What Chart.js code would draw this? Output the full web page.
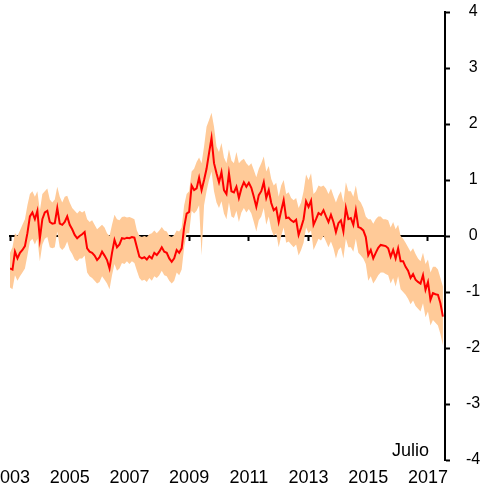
<!DOCTYPE html>
<html>
<head>
<meta charset="utf-8">
<script src="https://cdn.jsdelivr.net/npm/chart.js@4/dist/chart.umd.min.js"></script>
<style>
  body { margin: 0; background: #fff; }
  #wrap { position: relative; width: 480px; height: 489px; }
  #nota { position: absolute; left: 392px; top: 440px; font: 18px "Liberation Sans", Arial, sans-serif; color: #000; }
</style>
</head>
<body>
<div id="wrap">
  <canvas id="grafico" width="480" height="489"></canvas>
  <div id="nota">Julio</div>
</div>
<script>
// serie mensual, enero 2003 a julio 2017
var inicio = 2003;
var fin = 2017.57;
var anios = [2003, 2005, 2007, 2009, 2011, 2013, 2015, 2017];
var ticksY = [-4, -3, -2, -1, 0, 1, 2, 3, 4];

var valores = [
  -0.58, -0.6, -0.28, -0.4, -0.3, -0.25, -0.18, 0.05, 0.35, 0.42, 0.3, 0.45,
  -0.05, 0.3, 0.42, 0.45, 0.25, 0.22, 0.23, 0.5, 0.22, 0.2, 0.25, 0.35,
  0.2, 0.12, 0.02, -0.04, 0.0, 0.03, 0.07, -0.22, -0.28, -0.3, -0.35, -0.43,
  -0.38, -0.28, -0.35, -0.43, -0.58, -0.3, -0.07, -0.2, -0.15, -0.04, -0.05, -0.03,
  -0.04, -0.02, -0.03, -0.2, -0.37, -0.4, -0.38, -0.42, -0.36, -0.4, -0.3, -0.34,
  -0.28, -0.2, -0.28, -0.3, -0.4, -0.46, -0.4, -0.25, -0.3, -0.22, 0.16, 0.4,
  0.43, 0.9, 0.82, 0.85, 1.04, 0.82, 1.0, 1.2, 1.48, 1.75, 1.3, 1.12,
  0.96, 1.14, 0.82, 0.75, 1.12, 0.8, 0.78, 0.88, 0.68, 0.85, 0.96, 0.88,
  0.95, 0.86, 0.7, 0.52, 0.73, 0.8, 0.96, 0.68, 0.82, 0.59, 0.46, 0.5,
  0.25, 0.45, 0.64, 0.32, 0.33, 0.28, 0.25, 0.29, 0.02, 0.15, 0.3, 0.62,
  0.52, 0.63, 0.2, 0.3, 0.41, 0.38, 0.46, 0.35, 0.25, 0.38, 0.25, 0.07,
  0.23, 0.28, 0.08, 0.5, 0.3, 0.32, 0.2, 0.46, 0.16, 0.14, 0.1, -0.02,
  -0.34, -0.25, -0.4, -0.3, -0.21, -0.16, -0.17, -0.18, -0.22, -0.37, -0.25, -0.4,
  -0.22, -0.45, -0.45, -0.55, -0.62, -0.75, -0.68, -0.78, -0.82, -0.85, -0.7, -0.96,
  -0.82, -1.14, -1.02, -1.04, -1.05, -1.2, -1.44
];

var superior = [
  -0.3, -0.2, 0.05, 0.0, 0.1, 0.2, 0.3, 0.55, 0.75, 0.8, 0.7, 0.8,
  0.45, 0.75, 0.8, 0.85, 0.65, 0.6, 0.65, 0.88, 0.7, 0.6, 0.7, 0.72,
  0.6, 0.5, 0.45, 0.4, 0.45, 0.42, 0.45, 0.3, 0.25, 0.28, 0.2, 0.12,
  0.16, 0.2, 0.15, 0.05, 0.0, 0.2, 0.38, 0.3, 0.28, 0.34, 0.35, 0.33,
  0.34, 0.32, 0.3, 0.1, 0.0, -0.02, 0.0, -0.02, 0.03, 0.05, 0.1, 0.05,
  0.1, 0.16, 0.1, 0.08, 0.0, -0.02, 0.02, 0.1, 0.08, 0.15, 0.55, 0.75,
  0.8, 1.15, 1.2, 1.32, 1.4, 1.3, 1.6, 1.95, 2.07, 2.2, 1.95, 1.6,
  1.5, 1.66, 1.4, 1.3, 1.55, 1.35, 1.3, 1.5, 1.3, 1.35, 1.38, 1.3,
  1.25, 1.3, 1.18, 1.05, 1.2, 1.3, 1.42, 1.15, 1.25, 1.02, 0.9, 0.95,
  0.7, 0.9, 1.0, 0.75, 0.78, 0.68, 0.64, 0.68, 0.5, 0.6, 0.8, 1.1,
  1.0, 1.12, 0.75, 0.8, 0.9, 0.88, 0.9, 0.85, 0.75, 0.85, 0.72, 0.6,
  0.72, 0.8, 0.6, 0.96, 0.8, 0.8, 0.7, 0.9, 0.65, 0.6, 0.5, 0.35,
  0.3, 0.3, 0.22, 0.3, 0.35, 0.35, 0.3, 0.3, 0.28, 0.15, 0.25, 0.12,
  0.2, 0.0, -0.05, -0.12, -0.2, -0.28, -0.22, -0.32, -0.4, -0.45, -0.3, -0.5,
  -0.42, -0.65, -0.55, -0.55, -0.6, -0.75, -0.9
];

var inferior = [
  -0.92, -0.95, -0.7, -0.8, -0.72, -0.65, -0.58, -0.35, -0.1, -0.05, -0.15, -0.05,
  -0.45, -0.15, -0.05, -0.02, -0.2, -0.22, -0.2, 0.08, -0.2, -0.25, -0.2, -0.1,
  -0.25, -0.32, -0.42, -0.45, -0.4, -0.4, -0.35, -0.65, -0.72, -0.75, -0.8, -0.85,
  -0.82, -0.72, -0.78, -0.85, -0.95, -0.7, -0.5, -0.62, -0.58, -0.48, -0.5, -0.45,
  -0.5, -0.45, -0.48, -0.62, -0.75, -0.8, -0.78, -0.82, -0.75, -0.8, -0.72, -0.75,
  -0.7, -0.62, -0.7, -0.72, -0.8, -0.85, -0.8, -0.65, -0.7, -0.6, -0.2, 0.05,
  0.05, 0.45, 0.4, 0.45, 0.55, -0.35, 0.55, 0.8, 1.0, 1.15, 0.8, 0.6,
  0.5, 0.62, 0.4, 0.3, 0.6, 0.35, 0.32, 0.45, 0.25, 0.42, 0.5, 0.42,
  0.48, 0.4, 0.25, 0.08, 0.28, 0.35, 0.5, 0.2, 0.35, 0.12, 0.0, 0.05,
  -0.2, 0.0, 0.15, -0.12, -0.1, -0.15, -0.2, -0.15, -0.35, -0.25, -0.12, 0.15,
  0.05, 0.1, -0.25, -0.15, -0.05, -0.08, 0.0, -0.1, -0.2, -0.1, -0.22, -0.4,
  -0.25, -0.2, -0.4, -0.05, -0.2, -0.2, -0.28, -0.05, -0.3, -0.35, -0.4, -0.5,
  -0.8, -0.72, -0.85, -0.78, -0.7, -0.65, -0.65, -0.68, -0.7, -0.85, -0.75, -0.9,
  -0.72, -0.95, -1.0, -1.05, -1.12, -1.22, -1.15, -1.25, -1.3, -1.35, -1.2, -1.45,
  -1.35, -1.6, -1.5, -1.55, -1.6, -1.75, -1.95
];

function puntos(serie) {
  return serie.map(function (v, i) { return { x: inicio + i / 12, y: v }; });
}

function ticksAnios(scale) {
  scale.ticks = anios.map(function (a) { return { value: a }; });
}

var fuente = '"Liberation Sans", Arial, sans-serif';

var ctx = document.getElementById("grafico");
var grafico = new Chart(ctx, {
  type: 'line',
  data: {
    datasets: [
      {
        // linea central, encima de la banda
        data: puntos(valores),
        borderColor: "#FF0000",
        borderWidth: 2,
        pointRadius: 0,
        fill: false,
        tension: 0
      },
      {
        data: puntos(superior),
        borderWidth: 0,
        pointRadius: 0,
        backgroundColor: "#FFCA98",
        fill: '+1',
        tension: 0
      },
      {
        data: puntos(inferior),
        borderWidth: 0,
        pointRadius: 0,
        fill: false,
        tension: 0
      }
    ]
  },
  options: {
    responsive: false,
    animation: false,
    layout: {
      autoPadding: false,
      padding: { left: 10, top: 12, right: 0, bottom: 0 }
    },
    plugins: {
      legend: { display: false },
      tooltip: { enabled: false }
    },
    scales: {
      x: {
        type: 'linear',
        min: inicio,
        max: fin,
        position: 'bottom',
        afterBuildTicks: ticksAnios,
        afterFit: function (s) {
          s.height = 29;
          s.paddingLeft = 0;
          s.paddingRight = 0;
        },
        grid: { display: false, drawTicks: false },
        border: { display: false },
        ticks: {
          color: "#000",
          padding: 7,
          maxRotation: 0,
          autoSkip: false,
          font: { family: fuente, size: 18 },
          callback: function (v) { return String(v); }
        }
      },
      cero: {
        type: 'linear',
        axis: 'x',
        min: inicio,
        max: fin,
        position: { y: 0 },
        z: 1,
        afterBuildTicks: ticksAnios,
        afterFit: function (s) {
          s.paddingLeft = 0;
          s.paddingRight = 0;
        },
        ticks: { display: false },
        grid: {
          drawOnChartArea: false,
          drawTicks: true,
          tickLength: 4,
          tickWidth: 2,
          color: "#000"
        },
        border: { color: "#000", width: 2 }
      },
      y: {
        position: 'right',
        min: -4,
        max: 4,
        afterBuildTicks: function (s) {
          s.ticks = ticksY.map(function (v) { return { value: v }; });
        },
        afterFit: function (s) {
          s.width = 35;
          s.paddingTop = 0;
          s.paddingBottom = 0;
        },
        ticks: {
          color: "#000",
          padding: 16,
          crossAlign: 'center',
          font: { family: fuente, size: 16 }
        },
        grid: {
          drawOnChartArea: false,
          tickLength: 5,
          tickWidth: 2,
          color: "#000"
        },
        border: { color: "#000", width: 2 }
      }
    }
  }
});
</script>
</body>
</html>
